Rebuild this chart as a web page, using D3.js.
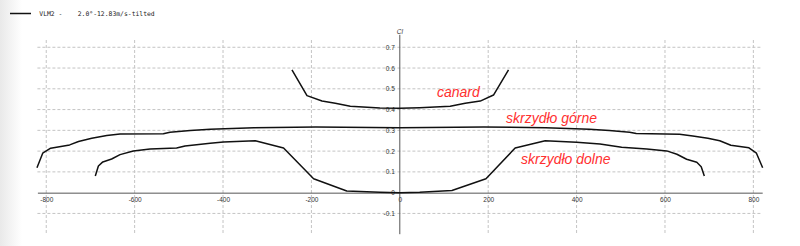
<!DOCTYPE html>
<html>
<head>
<meta charset="utf-8">
<script src="https://cdn.jsdelivr.net/npm/d3@7"></script>
<style>
  html, body { margin: 0; padding: 0; background: #fff; }
  svg { display: block; }
</style>
</head>
<body>
<script>
// spanwise lift coefficient
const canardX = [-244, -210, -176, -146, -112, -45, 0, 45, 114, 148, 182, 212, 246]
const canardY = [0.591, 0.467, 0.441, 0.430, 0.416, 0.408, 0.406, 0.409, 0.416, 0.430, 0.441, 0.470, 0.591]

const upperX = [-821, -808, -790, -747, -727, -697, -663, -633, -535, -520, -474, -429, -330, -190, 0,
                190, 330, 429, 474, 520, 535, 633, 663, 697, 724, 749, 790, 807, 821]
const upperY = [0.12, 0.19, 0.214, 0.23, 0.246, 0.262, 0.275, 0.283, 0.284, 0.291, 0.299, 0.305, 0.313, 0.316, 0.312,
                0.316, 0.313, 0.305, 0.299, 0.291, 0.285, 0.281, 0.273, 0.262, 0.25, 0.228, 0.216, 0.19, 0.12]

const lowerX = [-689, -682, -672, -652, -633, -603, -565, -505, -486, -429, -399, -327, -263, -195, -120, -45, 0,
                45, 118, 195, 261, 329, 400, 453, 502, 559, 604, 627, 649, 672, 682, 689]
const lowerY = [0.08, 0.128, 0.148, 0.162, 0.183, 0.201, 0.21, 0.215, 0.225, 0.238, 0.244, 0.25, 0.215, 0.067, 0.008, 0.002, 0,
                0.002, 0.01, 0.067, 0.215, 0.25, 0.243, 0.234, 0.219, 0.21, 0.201, 0.185, 0.161, 0.146, 0.125, 0.08]

const xTicks = [-800, -600, -400, -200, 0, 200, 400, 600, 800]
const yTicks = [-0.1, 0, 0.1, 0.2, 0.3, 0.4, 0.5, 0.6, 0.7]

const labels = [
  { text: "canard", x: 437, y: 97 },
  { text: "skrzydło górne", x: 506, y: 123 },
  { text: "skrzydło dolne", x: 521, y: 164 }
]
const legendText = "VLM2 -    2.0°-12.83m/s-tilted"

const width = 800, height = 246

const x = d3.scaleLinear().domain([-820, 820]).range([37.4, 762.2])
const y = d3.scaleLinear().domain([-0.2, 0.735]).range([234.2, 40])

const svg = d3.select("body").append("svg")
  .attr("width", width)
  .attr("height", height)

// faint shading on the left edge
const grad = svg.append("defs").append("linearGradient")
  .attr("id", "edge")
  .attr("x1", 0).attr("x2", 1).attr("y1", 0).attr("y2", 0)
grad.append("stop").attr("offset", 0).attr("stop-color", "#e9e9e9")
grad.append("stop").attr("offset", 1).attr("stop-color", "#ffffff")
svg.append("rect")
  .attr("x", 0).attr("y", 0)
  .attr("width", 22).attr("height", height)
  .attr("fill", "url(#edge)")

// grid
svg.append("g")
  .selectAll("line")
  .data(yTicks.filter(d => d !== 0))
  .join("line")
    .attr("x1", x(-820)).attr("x2", x(820))
    .attr("y1", d => y(d)).attr("y2", d => y(d))
    .attr("stroke", "#c4c4c4")
    .attr("stroke-dasharray", "3,2")

svg.append("g")
  .selectAll("line")
  .data(xTicks.filter(d => d !== 0))
  .join("line")
    .attr("x1", d => x(d)).attr("x2", d => x(d))
    .attr("y1", y(0.735)).attr("y2", y(-0.2))
    .attr("stroke", "#c4c4c4")
    .attr("stroke-dasharray", "3,2")

// axes through the origin
svg.append("g")
  .attr("transform", `translate(0,${y(0)})`)
  .call(d3.axisBottom(x).tickValues(xTicks).tickSize(0).tickPadding(5).tickFormat(d => String(d)))
  .call(g => g.select(".domain").attr("stroke", "#555"))
  .selectAll("text")
    .attr("font-family", "Liberation Sans, sans-serif")
    .attr("font-size", 6.5)
    .attr("fill", "#333")

svg.append("g")
  .attr("transform", `translate(${x(0)},0)`)
  .call(d3.axisLeft(y).tickValues(yTicks).tickSize(0).tickPadding(5).tickFormat(d => String(d)))
  .call(g => g.select(".domain").remove())
  .selectAll("text")
    .attr("font-family", "Liberation Sans, sans-serif")
    .attr("font-size", 6.5)
    .attr("fill", "#333")

svg.append("line")
  .attr("x1", x(0)).attr("x2", x(0))
  .attr("y1", y(0.76)).attr("y2", y(-0.2))
  .attr("stroke", "#555")

svg.append("text")
  .attr("x", x(0))
  .attr("y", y(0.76) - 1)
  .attr("text-anchor", "middle")
  .attr("font-family", "Liberation Sans, sans-serif")
  .attr("font-style", "italic")
  .attr("font-size", 6.5)
  .attr("fill", "#333")
  .text("Cl")

// curves
const line = d3.line().x(d => x(d[0])).y(d => y(d[1]))
const series = [
  d3.zip(canardX, canardY),
  d3.zip(upperX, upperY),
  d3.zip(lowerX, lowerY)
]
svg.append("g")
  .selectAll("path")
  .data(series)
  .join("path")
    .attr("d", line)
    .attr("fill", "none")
    .attr("stroke", "#111")
    .attr("stroke-width", 1.5)
    .attr("stroke-linejoin", "round")

// annotations
svg.append("g")
  .selectAll("text")
  .data(labels)
  .join("text")
    .attr("x", d => d.x)
    .attr("y", d => d.y)
    .attr("font-family", "Liberation Sans, Arial, sans-serif")
    .attr("font-style", "italic")
    .attr("font-size", 14)
    .attr("fill", "#ff3030")
    .text(d => d.text)

// legend
svg.append("line")
  .attr("x1", 10).attr("x2", 31)
  .attr("y1", 13.5).attr("y2", 13.5)
  .attr("stroke", "#111")
  .attr("stroke-width", 1.5)

svg.append("text")
  .attr("x", 39.3)
  .attr("y", 15.8)
  .attr("font-family", "DejaVu Sans Mono, monospace")
  .attr("font-size", 6.4)
  .attr("fill", "#222")
  .style("white-space", "pre")
  .text(legendText)
</script>
</body>
</html>
